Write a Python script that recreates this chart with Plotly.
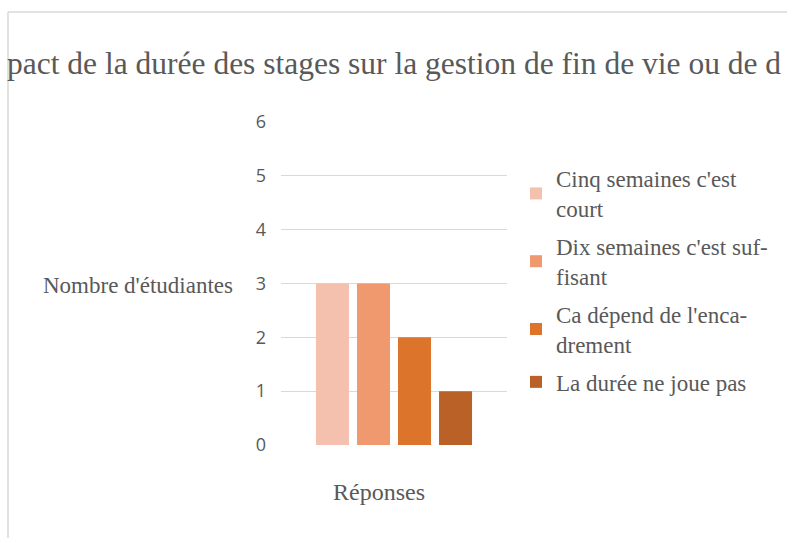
import plotly.graph_objects as go

# Data
category = ["Réponses"]
series_names = ["Cinq semaines c'est<br>court",
                "Dix semaines c'est suf-<br>fisant",
                "Ca dépend de l'enca-<br>drement",
                "La durée ne joue pas"]
series_values = [3, 3, 2, 1]
series_colors = ["#F4C1AE", "#F0996F", "#DD742C", "#BA6127"]

# title is cut at both edges in the reference, keep the visible part
title_text = "pact de la durée des stages sur la gestion de fin de vie ou de d"
y_title = "Nombre d'étudiantes"

W, H = 787, 538
L, R, T, B = 281, 507, 122, 445  # plot area in pixels
SERIF = "Liberation Serif"
GREY = "#595959"
LINE = "#D9D9D9"


def px(x):
    return (x - L) / (R - L)


def py(y):
    return (B - y) / (B - T)


fig = go.Figure()
for i, (name, val, col) in enumerate(zip(series_names, series_values, series_colors)):
    fig.add_trace(go.Bar(x=category, y=[val], name=name, legendgroup=f"g{i}",
                         marker=dict(color=col, line=dict(width=0))))

fig.update_layout(
    width=W, height=H,
    margin=dict(l=L, r=W - R, t=T, b=H - B),
    paper_bgcolor="white", plot_bgcolor="white",
    barmode="group", bargap=0.274, bargroupgap=0.195,
    showlegend=True,
    legend=dict(x=px(516), y=py(157), xanchor="left", yanchor="top",
                font=dict(family=SERIF, size=23, color=GREY),
                tracegroupgap=5, bgcolor="rgba(0,0,0,0)"),
    xaxis=dict(showgrid=False, showline=False, zeroline=False, ticks="",
               tickfont=dict(family=SERIF, size=24, color=GREY),
               ticklabelshift=-15, ticklabelstandoff=30),
    yaxis=dict(range=[0, 6], dtick=1, showgrid=True, gridcolor=LINE, gridwidth=1,
               zeroline=False, showline=False, ticks="",
               tickfont=dict(family="Open Sans", size=18, color=GREY),
               ticklabelstandoff=14),
    annotations=[
        dict(text=title_text, xref="paper", yref="paper", x=px(5), y=py(64),
             xanchor="left", yanchor="middle", showarrow=False,
             font=dict(family=SERIF, size=31.5, color=GREY)),
        dict(text=y_title, xref="paper", yref="paper", x=px(41), y=py(285),
             xanchor="left", yanchor="middle", showarrow=False,
             font=dict(family=SERIF, size=23, color=GREY)),
    ],
    shapes=[
        dict(type="line", xref="paper", yref="paper", x0=px(8), x1=px(800), y0=py(12), y1=py(12),
             line=dict(color=LINE, width=1.5)),
        dict(type="line", xref="paper", yref="paper", x0=px(8), x1=px(8), y0=py(12), y1=py(545),
             line=dict(color=LINE, width=1.5)),
    ],
)

# drop the default page margin so the 787x538 figure fills the window exactly
fig.write_html("out.html", config={"displayModeBar": False},
               post_script="document.body.style.margin='0';document.documentElement.style.overflow='hidden';")
